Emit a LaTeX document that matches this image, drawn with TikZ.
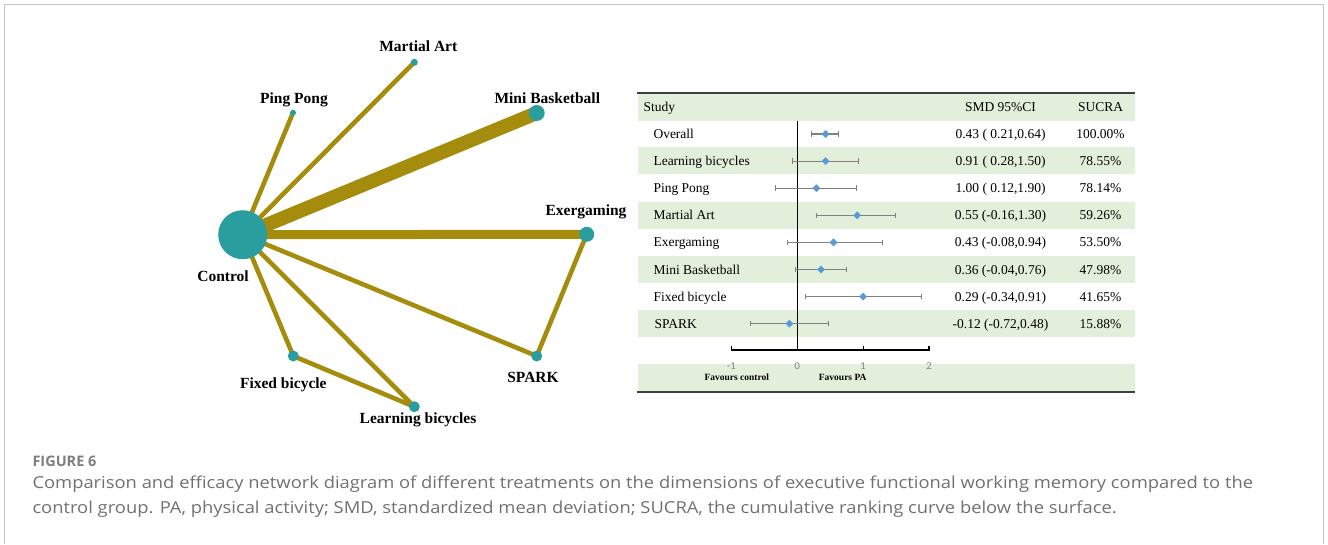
\documentclass[tikz,border=0pt]{standalone}
\usepackage{fontspec}
\setmainfont{Liberation Serif}
\newfontfamily\capfont{Open Sans}
\newfontfamily\tickfont{Carlito}
\usetikzlibrary{positioning,calc,backgrounds,shapes.geometric,arrows.meta}

\definecolor{edgegold}{HTML}{A68C0C}
\definecolor{nodeteal}{HTML}{2A9D9F}
\definecolor{bandgreen}{HTML}{E2EFDA}
\definecolor{estblue}{HTML}{5B9BD5}
\definecolor{bargray}{HTML}{808080}
\definecolor{rulegray}{HTML}{3F3F3F}
\definecolor{framegray}{HTML}{C4C4C4}
\definecolor{captiongray}{HTML}{707070}

\begin{document}
\begin{tikzpicture}[
    x=1pt, y=-1pt,
    edge/.style={draw=edgegold, line width=4.6pt},
    trt/.style={circle, fill=nodeteal, inner sep=0pt},
    netlabel/.style={font=\fontsize{15.5}{17}\selectfont\bfseries, anchor=base, inner sep=0pt},
    band/.style={fill=bandgreen},
    cell/.style={font=\fontsize{13.5}{15}\selectfont, inner sep=0pt},
    ci/.style={draw=bargray, line width=1.1pt, {Bar[width=5.5pt]}-{Bar[width=5.5pt]}},
    est/.style={diamond, fill=estblue, inner sep=0pt, minimum size=8pt},
    ticklabel/.style={font=\fontsize{10.5}{11}\tickfont, text=gray, anchor=base, inner sep=0pt},
    favlabel/.style={font=\fontsize{9.5}{10}\selectfont\bfseries, anchor=base, inner sep=0pt},
    caption/.style={font=\fontsize{16.5}{18}\capfont, text=captiongray, anchor=base west, inner sep=0pt}
]
\useasboundingbox (0,0) rectangle (1328,544);

% Frame
\draw[framegray, line width=1.5pt] (4.5,544) -- (4.5,4.5) -- (1323.5,4.5) -- (1323.5,544);

% Network: treatments
\node[trt, minimum size=49pt] (control) at (242.7,234.7) {};
\node[trt, minimum size=7pt] (martial) at (414.3,62.3) {};
\node[trt, minimum size=6pt] (pingpong) at (293,112.7) {};
\node[trt, minimum size=16pt] (minibasket) at (536.7,113) {};
\node[trt, minimum size=15pt] (exergaming) at (586.7,234.3) {};
\node[trt, minimum size=11pt] (spark) at (536.7,356) {};
\node[trt, minimum size=11pt] (fixedbike) at (293.3,356) {};
\node[trt, minimum size=11pt] (learnbike) at (414.3,406.7) {};

% Network: labels
\node[netlabel] (lblmartial) at (418.3,51.7) {Martial Art};
\node[netlabel] (lblpingpong) at (294,103.3) {Ping Pong};
\node[netlabel] (lblminibasket) at (547.3,103.3) {Mini Basketball};
\node[netlabel] (lblexergaming) at (586,215.7) {Exergaming};
\node[netlabel] (lblcontrol) at (223,281) {Control};
\node[netlabel] (lblspark) at (533,382.7) {SPARK};
\node[netlabel] (lblfixedbike) at (283.3,388.3) {Fixed bicycle};
\node[netlabel] (lbllearnbike) at (418,423.3) {Learning bicycles};

% Network: comparisons
\begin{scope}[on background layer]
    \draw[edge] (control.center) -- (pingpong.center);
    \draw[edge] (control.center) -- (martial.center);
    \draw[edge, line width=14pt] (control.center) -- (minibasket.center);
    \draw[edge, line width=9pt] (control.center) -- (exergaming.center);
    \draw[edge] (control.center) -- (spark.center);
    \draw[edge] (control.center) -- (fixedbike.center);
    \draw[edge] (control.center) -- (learnbike.center);
    \draw[edge] (exergaming.center) -- (spark.center);
    \draw[edge] (fixedbike.center) -- (learnbike.center);
\end{scope}

% Table bands
\fill[band] (638,93.5) rectangle (1135,120.5);
\fill[band] (638,147.3) rectangle (1135,174.3);
\fill[band] (638,201.7) rectangle (1135,228.5);
\fill[band] (638,256) rectangle (1135,282.8);
\fill[band] (638,310) rectangle (1135,336.8);
\fill[band] (638,364) rectangle (1135,390.7);

% Table rules
\draw[rulegray, line width=2pt] (637,92.5) -- (1135,92.5);
\draw[rulegray, line width=2pt] (637,391.7) -- (1135,391.7);

% Header
\node[cell, anchor=base west] (hstudy) at (643.3,111.7) {Study};
\node[cell, anchor=base] (hsmd) at (1000.5,111.7) {SMD 95\%CI};
\node[cell, anchor=base] (hsucra) at (1100.5,111.7) {SUCRA};

% Rows
\node[cell, anchor=base west] (noverall) at (653.3,138.5) {Overall};
\node[cell, anchor=base] (soverall) at (1000.5,138.5) {0.43 ( 0.21,0.64)};
\node[cell, anchor=base] (roverall) at (1100.5,138.5) {100.00\%};

\node[cell, anchor=base west] (nlearn) at (653.3,165.6) {Learning bicycles};
\node[cell, anchor=base] (slearn) at (1000.5,165.6) {0.91 ( 0.28,1.50)};
\node[cell, anchor=base] (rlearn) at (1100.5,165.6) {78.55\%};

\node[cell, anchor=base west] (nping) at (653.3,192.7) {Ping Pong};
\node[cell, anchor=base] (sping) at (1000.5,192.7) {1.00 ( 0.12,1.90)};
\node[cell, anchor=base] (rping) at (1100.5,192.7) {78.14\%};

\node[cell, anchor=base west] (nmartial) at (653.3,219.8) {Martial Art};
\node[cell, anchor=base] (smartial) at (1000.5,219.8) {0.55 (-0.16,1.30)};
\node[cell, anchor=base] (rmartial) at (1100.5,219.8) {59.26\%};

\node[cell, anchor=base west] (nexer) at (653.3,246.9) {Exergaming};
\node[cell, anchor=base] (sexer) at (1000.5,246.9) {0.43 (-0.08,0.94)};
\node[cell, anchor=base] (rexer) at (1100.5,246.9) {53.50\%};

\node[cell, anchor=base west] (nmini) at (653.3,274) {Mini Basketball};
\node[cell, anchor=base] (smini) at (1000.5,274) {0.36 (-0.04,0.76)};
\node[cell, anchor=base] (rmini) at (1100.5,274) {47.98\%};

\node[cell, anchor=base west] (nfixed) at (653.3,301.1) {Fixed bicycle};
\node[cell, anchor=base] (sfixed) at (1000.5,301.1) {0.29 (-0.34,0.91)};
\node[cell, anchor=base] (rfixed) at (1100.5,301.1) {41.65\%};

\node[cell, anchor=base west] (nspark) at (654.3,328.2) {SPARK};
\node[cell, anchor=base] (sspark) at (1000.5,328.2) {-0.12 (-0.72,0.48)};
\node[cell, anchor=base] (rspark) at (1100.5,328.2) {15.88\%};

% Forest plot
\begin{scope}[xshift=797.3pt, x=65.8pt]
    % Axis
    \draw[black, line width=1.2pt] (0,120.5) -- (0,350);
    \draw[black, line width=1.2pt] (-1,345.5) -- (-1,350) -- (2,350) -- (2,345.5);
    \draw[black, line width=1.2pt] (0,345.5) -- (0,350);
    \draw[black, line width=1.2pt] (1,345.5) -- (1,350);
    \node[ticklabel] (tm1) at (-1,369.5) {-1};
    \node[ticklabel] (t0) at (0,369.5) {0};
    \node[ticklabel] (t1) at (1,369.5) {1};
    \node[ticklabel] (t2) at (2,369.5) {2};
    \node[favlabel] (favctrl) at (-0.92,380) {Favours control};
    \node[favlabel] (favpa) at (0.69,380) {Favours PA};

    % Estimates
    \draw[ci] (0.21,134) -- (0.64,134);
    \node[est] (eoverall) at (0.43,134) {};
    \draw[ci] (-0.08,161.1) -- (0.94,161.1);
    \node[est] (elearn) at (0.43,161.1) {};
    \draw[ci] (-0.34,188.2) -- (0.91,188.2);
    \node[est] (eping) at (0.29,188.2) {};
    \draw[ci] (0.28,215.3) -- (1.50,215.3);
    \node[est] (emartial) at (0.91,215.3) {};
    \draw[ci] (-0.16,242.4) -- (1.30,242.4);
    \node[est] (eexer) at (0.55,242.4) {};
    \draw[ci] (-0.04,269.5) -- (0.76,269.5);
    \node[est] (emini) at (0.36,269.5) {};
    \draw[ci] (0.12,296.6) -- (1.90,296.6);
    \node[est] (efixed) at (1.00,296.6) {};
    \draw[ci] (-0.72,323.7) -- (0.48,323.7);
    \node[est] (espark) at (-0.12,323.7) {};
\end{scope}

% Caption
\node[caption, font=\fontsize{14.5}{16}\capfont\bfseries, text=captiongray!90] (figno) at (32.3,466) {FIGURE 6};
\node[caption] (capline1) at (32.3,488.7) {\scalebox{1.113}[1]{Comparison and efficacy network diagram of different treatments on the dimensions of executive functional working memory compared to the}};
\node[caption] (capline2) at (32.3,513.5) {\scalebox{1.113}[1]{control group. PA, physical activity; SMD, standardized mean deviation; SUCRA, the cumulative ranking curve below the surface.}};

\end{tikzpicture}
\end{document}
